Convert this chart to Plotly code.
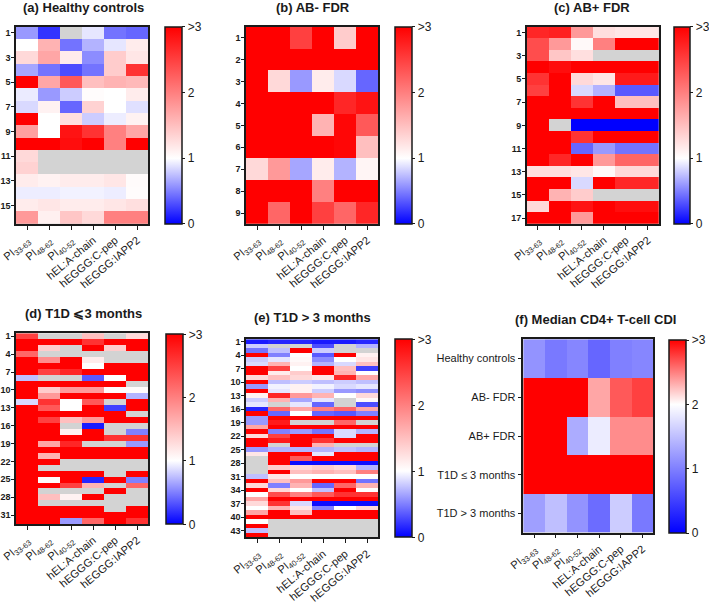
import plotly.graph_objects as go

G = None  # not tested (grey)

peptides = ["PI<sub>33-63</sub>", "PI<sub>48-62</sub>", "PI<sub>40-52</sub>",
            "hEL:A-chain", "hEGGG:C-pep", "hEGGG:IAPP2"]

healthy_controls = [
    [0.6, 0.2, G, 0.9, 0.45, 0.4],
    [1.0, 1.6, 0.45, 0.7, 0.9, 1.15],
    [1.3, 1.7, 1.15, 0.55, 1.4, 1.2],
    [0.65, 0.45, 0.3, 0.45, 1.4, 2.6],
    [3.0, 1.7, 2.3, 1.5, 1.6, 1.55],
    [0.92, 0.6, 0.8, 1.02, 1.0, 1.15],
    [0.85, 1.1, 0.4, 1.35, 1.0, 0.88],
    [3.0, 1.0, 1.25, 0.8, 0.93, 1.1],
    [1.75, 1.0, 2.85, 2.6, 2.0, 1.7],
    [3.0, 3.0, 2.9, 3.0, 2.0, 3.0],
    [1.3, G, G, G, G, G],
    [1.35, G, G, G, G, G],
    [1.15, 1.1, 1.15, 1.15, 1.2, 1.03],
    [0.93, 0.93, 0.95, 0.95, 0.93, 1.02],
    [1.15, 1.2, 1.15, 1.15, 1.2, 1.25],
    [1.8, 1.12, 1.45, 1.3, 2.0, 2.0],
]

ab_neg_fdr = [
    [3, 3, 2.5, 3, 1.4, 3],
    [3, 3, 3, 3, 3, 3],
    [3, 1.3, 0.6, 1.15, 0.85, 0.4],
    [3, 3, 3, 3, 2.7, 2.85],
    [3, 3, 3, 1.6, 2.95, 2.3],
    [3, 3, 3, 3, 2.95, 1.5],
    [1.3, 1.8, 0.65, 1.15, 0.7, 1.08],
    [3, 3, 3, 2.0, 3, 3],
    [3, 2.2, 3, 2.5, 2.2, 2.7],
]

ab_pos_fdr = [
    [2.7, 2.75, 1.8, 1.25, 1.2, 1.2],
    [2.4, 1.8, 1.05, 2.0, 3, 3],
    [2.4, 1.45, 1.25, G, G, G],
    [3, 2.9, 3, 3, 3, 3],
    [2.6, 3, 1.3, 1.2, 2.8, 2.8],
    [2.5, 3, 0.85, 0.7, 0.35, 0.35],
    [3, 3, 2.6, 3, 1.5, 1.5],
    [3, 3, 3, 3, 3, 3],
    [3, G, 0.0, 0.0, 0.0, 0.0],
    [3, 3, 2.6, 3, 3, 3],
    [3, 3, 0.4, 0.6, 0.45, 0.45],
    [3, 2.7, 3, 1.8, 2.2, 2.2],
    [1.25, 1.25, 1.2, 1.05, 1.3, 1.3],
    [3, 3, 0.85, 3, 2.7, 2.7],
    [3, 1.6, 1.4, G, G, G],
    [1.3, 3, 2.85, 3, 2.9, 2.9],
    [3, 3, 1.8, 3, 3, 3],
]

t1d_le3 = [
    [2.5, G, G, 1.5, G, 1.3],
    [3, 3, 3, 2.6, 3, 3],
    [3, 1.4, G, 3, 1.4, 3],
    [2.2, G, G, G, G, G],
    [3, 1.9, 3, 1.15, G, G],
    [3, 3, 3, 1.0, 3, 3],
    [3, 2.5, 2.7, 3, 3, 3],
    [0.75, G, G, 0.35, 1.0, 3],
    [3, 3, 3, 3, 3, G],
    [3, 1.4, 1.8, 1.8, 1.03, 1.03],
    [3, 1.8, 3, 3, 3, 0.7],
    [0.85, 2.6, 1.0, 2.3, G, 3],
    [3, 2.3, 1.0, 3, 0.25, 3],
    [3, 3, 3, 3, 3, G],
    [3, 2.5, 1.5, 1.8, 3, 3],
    [3, 3, G, 0.1, G, G],
    [3, 3, 1.1, 3, G, 0.5],
    [3, 3, 3, 3, 2.6, 2.6],
    [3, 1.7, 2.7, G, G, 0.6],
    [3, 3, 3, 3, 3, 3],
    [3, 1.6, 3, 3, 3, 3],
    [3, 3, G, G, G, G],
    [3, G, G, G, G, G],
    [3, 3, 3, 3, G, 3],
    [3, 1.05, 3, 0.15, 3, 0.5],
    [3, 3, 2.5, 1.6, G, 2.2],
    [3, G, G, G, 3, G],
    [3, 1.5, 1.1, 3, G, G],
    [3, G, G, G, G, G],
    [3, 3, 3, 3, G, 3],
    [3, 3, 3, 3, 3, 3],
    [3, 3, 0.6, 2.2, 3, 2.6],
]

t1d_gt3 = [
    [0.1, 0.15, 0.15, 0.1, 0.1, 0.15],
    [0.8, G, G, 0.3, G, 0.7],
    [0.45, 0.75, 3, 0.8, G, G],
    [3, 0.5, 1.0, 0.35, 3, 1.1],
    [0.8, 0.9, 1.05, 0.55, 1.0, 1.2],
    [0.85, 1.6, 1.1, 0.7, 0.85, 1.5],
    [3, 2.5, 1.0, 3, 1.5, 0.25],
    [3, 1.15, 1.4, 3, 1.6, 1.0],
    [1.3, 1.5, 1.3, 1.2, 2.7, 1.7],
    [3, 0.75, 0.8, 0.75, 0.8, 0.75],
    [0.6, 0.95, 1.1, 0.95, 0.85, 0.9],
    [3, 0.9, 1.1, 0.8, 0.6, 0.55],
    [1.1, 2.7, 1.8, 1.6, 1.0, 1.3],
    [0.8, 1.6, 0.65, 0.9, G, 1.05],
    [0.9, G, 0.9, 0.4, G, 0.3],
    [0.15, 2.2, 1.7, 2.0, 2.2, 1.7],
    [3, 0.4, 1.0, 0.4, 0.35, 0.5],
    [0.6, 3, 3, 3, 3, 3],
    [0.6, 2.8, G, G, 2.2, G],
    [1.7, 3, 3, 3, 3, 3],
    [3, 0.5, 0.6, 0.45, 0.85, 0.7],
    [1.3, 2.5, 3, 3, 0.85, 3],
    [3, 2.8, 3, 2.6, 3, 3],
    [3, G, 3, 1.6, G, G],
    [0.6, 0.7, 0.7, 0.7, 0.75, 0.7],
    [1.2, 3, 3, 0.9, 3, 3],
    [G, 3, 2.3, 3, 3, 3],
    [G, 3, 0.05, 0.05, 0.05, 0.05],
    [G, 1.4, 1.3, 1.4, 1.3, 0.7],
    [G, 3, 1.5, 1.6, 1.5, 2.0],
    [0.75, 1.2, 1.0, 1.0, 1.0, 1.0],
    [3, 1.5, 1.8, 3, 3, 0.45],
    [1.3, 0.5, 1.6, 0.4, 2.2, 1.6],
    [3, 1.3, 1.0, 0.75, 3, 1.0],
    [1.0, 2.4, 2.0, 2.3, 2.6, 2.6],
    [1.7, 3, 3, 3, 3, 3],
    [1.3, 2.6, 0.85, 0.05, 0.05, 0.05],
    [1.0, 1.6, 1.2, 0.5, 1.0, 1.3],
    [1.7, 3, 1.5, 3, 3, 3],
    [3, 3, 3, 3, 3, 3],
    [1.0, G, G, G, G, G],
    [3, G, G, G, G, G],
    [0.75, G, G, G, G, G],
    [3, G, G, G, G, G],
]

median_groups = ["Healthy controls", "AB- FDR", "AB+ FDR",
                 "T1D \u2264 3 months", "T1D > 3 months"]
median_cdi = [
    [1.15, 0.95, 1.05, 0.8, 1.0, 1.05],
    [3, 3, 3, 2.35, 2.65, 2.75],
    [3, 3, 1.35, 1.85, 2.45, 2.45],
    [3, 3, 3, 3, 3, 3],
    [1.25, 1.5, 1.15, 0.85, 1.6, 0.95],
]

colorbar_tickvals = [0, 1, 2, 3]
colorbar_ticktext = ["0", "1", "2", ">3"]

W, H = 709, 604
FONT = "Liberation Sans, Arial, sans-serif"
INK = "#1a1a1a"

scale_white1 = [[0, "rgb(0,0,255)"], [1 / 3, "rgb(255,255,255)"], [1, "rgb(255,0,0)"]]
scale_white2 = [[0, "rgb(0,0,255)"], [2 / 3, "rgb(255,255,255)"], [1, "rgb(255,0,0)"]]

panels = [
    dict(z=healthy_controls, title="(a) Healthy controls", hx=(16, 148.3), hy=(26.7, 224),
         cbx=(165, 181.7), cby=(26.7, 224), ytv=list(range(1, 17, 2)), t=(83, 7), cs=scale_white1),
    dict(z=ab_neg_fdr, title="(b) AB- FDR", hx=(246, 378.3), hy=(26.7, 224),
         cbx=(395, 411.7), cby=(26.7, 224), ytv=list(range(1, 10)), t=(313, 7), cs=scale_white1),
    dict(z=ab_pos_fdr, title="(c) AB+ FDR", hx=(526.7, 659), hy=(26.7, 224),
         cbx=(674.3, 690.7), cby=(26.7, 224), ytv=list(range(1, 18, 2)), t=(592, 7), cs=scale_white1),
    dict(z=t1d_le3, title="(d) T1D \u2a7d3 months", hx=(16, 148.3), hy=(333.3, 524),
         cbx=(165.7, 182.3), cby=(334.3, 524), ytv=list(range(1, 32, 3)), t=(83, 313), cs=scale_white1),
    dict(z=t1d_gt3, title="(e) T1D > 3 months", hx=(246, 378.3), hy=(339.3, 537.3),
         cbx=(395, 411.7), cby=(339.3, 537.3), ytv=list(range(1, 44, 3)), t=(312, 317), cs=scale_white1),
    dict(z=median_cdi, title="(f) Median CD4+ T-cell CDI", hx=(523.3, 653.3), hy=(339.3, 532.7),
         cbx=(669, 685.7), cby=(340, 532.7), ytv=None, t=(595, 319), cs=scale_white2),
]

fig = go.Figure()
annotations = []
for i, p in enumerate(panels, start=1):
    n = len(p["z"])
    xs = list(range(len(peptides)))
    ys = list(range(1, n + 1))
    fig.add_trace(go.Heatmap(
        z=p["z"], x=xs, y=ys, zmin=0, zmax=3, colorscale=p["cs"],
        xaxis=f"x{i}", yaxis=f"y{i}", hoverongaps=False,
        colorbar=dict(
            x=p["cbx"][0] / W, xanchor="left", xref="paper",
            y=1 - p["cby"][0] / H, yanchor="top", yref="paper",
            len=(p["cby"][1] - p["cby"][0]) / H, lenmode="fraction",
            thickness=p["cbx"][1] - p["cbx"][0], thicknessmode="pixels",
            outlinewidth=1.5, outlinecolor=INK, xpad=0, ypad=0,
            tickvals=colorbar_tickvals, ticktext=colorbar_ticktext,
            ticks="outside", ticklen=3, tickcolor=INK,
            tickfont=dict(family=FONT, size=12, color=INK),
        ),
    ))
    xa = dict(domain=[p["hx"][0] / W, p["hx"][1] / W], anchor=f"y{i}",
              range=[-0.5, len(peptides) - 0.5], tickvals=xs, ticktext=peptides,
              tickangle=-40, ticks="outside", ticklen=4, tickcolor=INK,
              showline=True, mirror=True, linecolor=INK, linewidth=1.5,
              showgrid=False, zeroline=False, automargin=False,
              tickfont=dict(family=FONT, size=11, color=INK))
    if p["ytv"] is None:
        ytv, ytt = ys, median_groups
        yfont = dict(family=FONT, size=11, color=INK)
        standoff, tl = 0, 4
    else:
        ytv, ytt = p["ytv"], [str(v) for v in p["ytv"]]
        yfont = dict(family=FONT, size=9, color=INK, weight="bold")
        standoff, tl = -1, 3
    ya = dict(domain=[1 - p["hy"][1] / H, 1 - p["hy"][0] / H], anchor=f"x{i}",
              range=[n + 0.5, 0.5], tickvals=ytv, ticktext=ytt,
              ticks="outside", ticklen=tl, tickcolor=INK, ticklabelstandoff=standoff,
              showline=True, mirror=True, linecolor=INK, linewidth=1.5,
              showgrid=False, zeroline=False, automargin=False, tickfont=yfont)
    fig.layout[f"xaxis{i}"] = xa
    fig.layout[f"yaxis{i}"] = ya
    annotations.append(dict(text=f"<b>{p['title']}</b>", x=p["t"][0] / W, y=1 - p["t"][1] / H,
                            xref="paper", yref="paper", xanchor="center", yanchor="middle",
                            showarrow=False, font=dict(family=FONT, size=13, color=INK)))

fig.update_layout(
    width=W, height=H, margin=dict(l=0, r=0, t=0, b=0, autoexpand=False),
    paper_bgcolor="white", plot_bgcolor="#d3d3d3",
    annotations=annotations, showlegend=False,
)
fig.write_html("out.html", config={"displayModeBar": False},
               post_script="document.body.style.margin='0px';")
